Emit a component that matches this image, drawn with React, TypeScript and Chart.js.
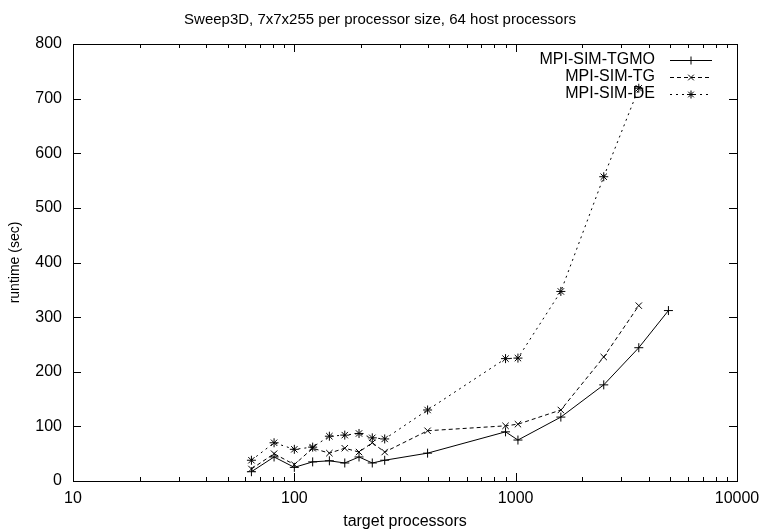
import React, { useEffect, useRef } from 'react';
import { Chart, registerables } from 'chart.js';

Chart.register(...registerables);

const chartTitle = 'Sweep3D, 7x7x255 per processor size, 64 host processors';
const xAxisTitle = 'target processors';
const yAxisTitle = 'runtime (sec)';

const processors = [64, 81, 100, 121, 144, 169, 196, 225, 256, 400, 900, 1024, 1600, 2500, 3600, 4900];
const tgmoRuntime = [17, 44, 25, 35, 37, 33, 44, 33, 38, 51, 90, 75, 117, 176, 244, 312];
const tgRuntime = [22, 50, 30, 60, 51, 60, 53, 70, 53, 92, 101, 104, 130, 227, 321];
const deRuntime = [38, 70, 58, 62, 82, 84, 87, 79, 77, 130, 224, 225, 347, 557, 719];

const seriesNames = ['MPI-SIM-TGMO', 'MPI-SIM-TG', 'MPI-SIM-DE'];
const seriesValues = [tgmoRuntime, tgRuntime, deRuntime];
const seriesMarkers = ['cross', 'crossRot', 'star'];
const seriesDashes: number[][] = [[], [4, 3], [2, 4]];

const xMajorTicks = [10, 100, 1000, 10000];
const yTickValues = [0, 100, 200, 300, 400, 500, 600, 700, 800];

const FONT = '"Liberation Sans", Arial, Helvetica, sans-serif';

function drawMarker(ctx: CanvasRenderingContext2D, style: string, x: number, y: number, r: number) {
  ctx.beginPath();
  const d = r * Math.SQRT1_2;
  if (style === 'cross' || style === 'star') {
    ctx.moveTo(x - r, y);
    ctx.lineTo(x + r, y);
    ctx.moveTo(x, y - r);
    ctx.lineTo(x, y + r);
  }
  if (style === 'crossRot' || style === 'star') {
    ctx.moveTo(x - d, y - d);
    ctx.lineTo(x + d, y + d);
    ctx.moveTo(x - d, y + d);
    ctx.lineTo(x + d, y - d);
  }
  ctx.stroke();
}

const framePlugin = {
  id: 'gnuframe',
  beforeDatasetsDraw(chart: any) {
    const { ctx, chartArea } = chart;
    const xs = chart.scales.x;
    const ys = chart.scales.y;
    const { left, right, top, bottom } = chartArea;
    ctx.save();
    ctx.strokeStyle = '#000';
    ctx.lineWidth = 1;
    ctx.setLineDash([]);
    ctx.strokeRect(Math.round(left) + 0.5, Math.round(top) + 0.5, Math.round(right - left), Math.round(bottom - top));
    ctx.beginPath();
    for (let dec = 10; dec < 10000; dec *= 10) {
      for (let m = 1; m <= 10; m++) {
        const v = dec * m;
        if (v > 10000) break;
        const isMajor = xMajorTicks.includes(v);
        const len = isMajor ? 8 : 4;
        const px = Math.round(xs.getPixelForValue(v)) + 0.5;
        ctx.moveTo(px, bottom);
        ctx.lineTo(px, bottom - len);
        ctx.moveTo(px, top);
        ctx.lineTo(px, top + len);
      }
    }
    yTickValues.forEach((v) => {
      const py = Math.round(ys.getPixelForValue(v)) + 0.5;
      ctx.moveTo(left, py);
      ctx.lineTo(left + 8, py);
      ctx.moveTo(right, py);
      ctx.lineTo(right - 8, py);
    });
    ctx.stroke();
    ctx.restore();
  },
  afterDatasetsDraw(chart: any) {
    const { ctx, chartArea } = chart;
    ctx.save();
    ctx.fillStyle = '#000';
    ctx.font = '15px ' + FONT;
    ctx.textAlign = 'center';
    ctx.textBaseline = 'middle';
    ctx.fillText(chartTitle, 380, 20);
    const textRight = chartArea.right - 82;
    const lineStart = chartArea.right - 67;
    const lineEnd = chartArea.right - 25;
    ctx.font = '16px ' + FONT;
    ctx.textAlign = 'right';
    seriesNames.forEach((name, i) => {
      const y = chartArea.top + 16 + i * 17;
      ctx.fillStyle = '#000';
      ctx.fillText(name, textRight, y);
      ctx.strokeStyle = '#000';
      ctx.lineWidth = 1;
      ctx.setLineDash(seriesDashes[i]);
      ctx.beginPath();
      ctx.moveTo(lineStart, Math.round(y) + 0.5);
      ctx.lineTo(lineEnd, Math.round(y) + 0.5);
      ctx.stroke();
      ctx.setLineDash([]);
      drawMarker(ctx, seriesMarkers[i], (lineStart + lineEnd) / 2, Math.round(y) + 0.5, 4);
    });
    ctx.restore();
  },
};

export default function App() {
  const canvasRef = useRef<HTMLCanvasElement | null>(null);

  useEffect(() => {
    document.body.style.margin = '0';
    const canvas = canvasRef.current;
    if (!canvas) return;
    const datasets = seriesNames.map((name, i) => ({
      label: name,
      data: seriesValues[i].map((v, j) => ({ x: processors[j], y: v })),
      borderColor: '#000',
      backgroundColor: '#000',
      borderWidth: 1,
      borderDash: seriesDashes[i],
      pointStyle: seriesMarkers[i],
      pointRadius: 4.5,
      pointBorderWidth: 1,
      pointBorderColor: '#000',
      fill: false,
      tension: 0,
    }));
    const chart = new Chart(canvas, {
      type: 'line',
      data: { datasets },
      options: {
        animation: false,
        responsive: false,
        devicePixelRatio: 1,
        layout: { padding: { top: 44, right: 25, left: 0, bottom: 0 } },
        plugins: {
          legend: { display: false },
          title: { display: false },
          tooltip: { enabled: false },
        },
        scales: {
          x: {
            type: 'logarithmic',
            min: 10,
            max: 10000,
            grid: { display: false, drawTicks: true, tickLength: 7 },
            border: { display: false },
            afterFit: (scale: any) => {
              scale.height = 51;
            },
            ticks: {
              autoSkip: false,
              maxRotation: 0,
              minRotation: 0,
              padding: 1,
              color: '#000',
              font: { family: FONT, size: 16 },
              callback: (value: any) => {
                const v = Number(value);
                return xMajorTicks.includes(v) ? String(v) : '';
              },
            },
            title: {
              display: true,
              text: xAxisTitle,
              color: '#000',
              font: { family: FONT, size: 16 },
              padding: { top: 0, bottom: 1 },
            },
          },
          y: {
            type: 'linear',
            min: 0,
            max: 800,
            grid: { display: false, drawTicks: false },
            border: { display: false },
            afterFit: (scale: any) => {
              scale.width = 73;
            },
            ticks: {
              stepSize: 100,
              padding: 11,
              color: '#000',
              font: { family: FONT, size: 16 },
            },
            title: {
              display: true,
              text: yAxisTitle,
              color: '#000',
              font: { family: FONT, size: 14 },
              padding: { top: 7, bottom: 0 },
            },
          },
        },
      },
      plugins: [framePlugin],
    } as any);
    return () => chart.destroy();
  }, []);

  return (
    <div style={{ width: 762, height: 532 }}>
      <canvas ref={canvasRef} width={762} height={532} style={{ display: 'block' }} />
    </div>
  );
}
